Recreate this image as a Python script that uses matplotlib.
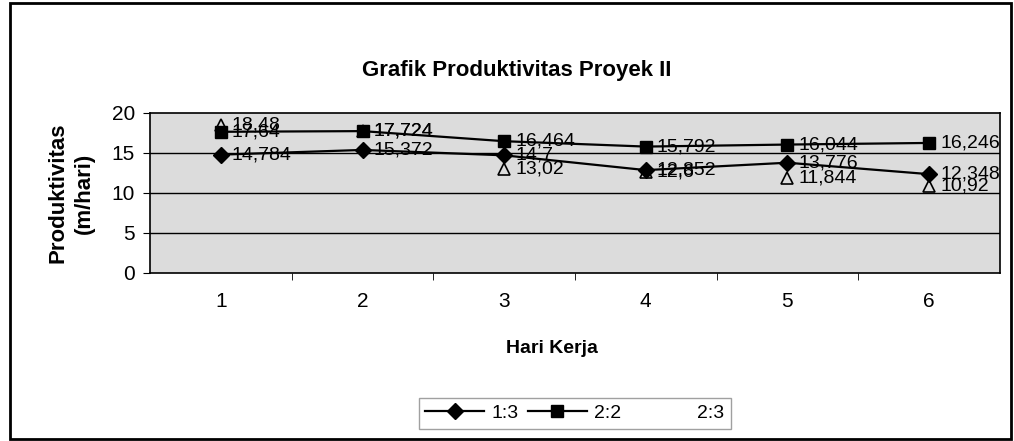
import matplotlib.pyplot as plt
from matplotlib.lines import Line2D
from matplotlib.patches import Rectangle

plt.rcParams['font.family'] = ['Liberation Sans', 'DejaVu Sans']

# data
hari = [1, 2, 3, 4, 5, 6]
seri_13 = [14.784, 15.372, 14.7, 12.852, 13.776, 12.348]
seri_22 = [17.64, 17.724, 16.464, 15.792, 16.044, 16.246]
seri_23 = [18.48, 17.724, 13.02, 12.6, 11.844, 10.92]
nama_seri = ['1:3', '2:2', '2:3']

fig = plt.figure(figsize=(10.14, 4.41), dpi=100)
ax = fig.add_axes([0.148, 0.381, 0.838, 0.363])
ax.set_facecolor('#dcdcdc')

# grid lines like excel
for g in [5, 10, 15]:
    ax.axhline(g, color='black', lw=1, zorder=1)

ax.plot(hari, seri_13, color='black', lw=1.6, marker='D', ms=8, zorder=3)
ax.plot(hari, seri_22, color='black', lw=1.6, marker='s', ms=8, zorder=3)
# 2:3 series came out almost invisible in the scan, only the triangles show
ax.plot(hari, seri_23, ls='none', marker='^', ms=8, mfc='none', mec='black', mew=1.2, zorder=3)

def fmt(v):
    return ('%g' % v).replace('.', ',')

for seri in [seri_13, seri_22, seri_23]:
    for x, y in zip(hari, seri):
        ax.annotate(fmt(y), (x, y), xytext=(8, 0), textcoords='offset points',
                    ha='left', va='center', fontsize=14, zorder=4)

ax.set_xlim(0.5, 6.5)
ax.set_ylim(0, 20)
ax.set_yticks([0, 5, 10, 15, 20])
ax.set_xticks(hari)
ax.set_xticks([1.5, 2.5, 3.5, 4.5, 5.5], minor=True)
ax.tick_params(axis='x', which='major', length=0, pad=14, labelsize=15)
ax.tick_params(axis='x', which='minor', length=5, direction='out', color='black')
ax.tick_params(axis='y', length=5, direction='out', labelsize=15, pad=6)
for s in ax.spines.values():
    s.set_color('black')
    s.set_linewidth(1.2)

ax.set_xlabel('Hari Kerja', fontsize=14, fontweight='bold', labelpad=14)
ax.xaxis.set_label_coords(0.473, -0.42)
ax.set_ylabel('Produktivitas\n(m/hari)', fontsize=16, fontweight='bold',
              labelpad=12, linespacing=1.3)
fig.text(0.51, 0.84, 'Grafik Produktivitas Proyek II', fontsize=16,
         fontweight='bold', ha='center', va='center')

handles = [
    Line2D([], [], color='black', lw=1.6, marker='D', ms=8),
    Line2D([], [], color='black', lw=1.6, marker='s', ms=8),
    Line2D([], [], color='none', lw=1.6),
]
leg = fig.legend(handles, nama_seri, loc='center', bbox_to_anchor=(0.567, 0.063),
                 ncol=3, fontsize=14, frameon=True, fancybox=False,
                 handlelength=3.0, columnspacing=0.5, handletextpad=0.4,
                 borderpad=0.35)
leg.get_frame().set_edgecolor('#888888')
leg.get_frame().set_linewidth(1)

# black frame around the whole chart
fig.patches.append(Rectangle((0.01, 0.004), 0.987, 0.99, transform=fig.transFigure,
                             fill=False, edgecolor='black', lw=2))

fig.savefig('out.png', dpi=100)
